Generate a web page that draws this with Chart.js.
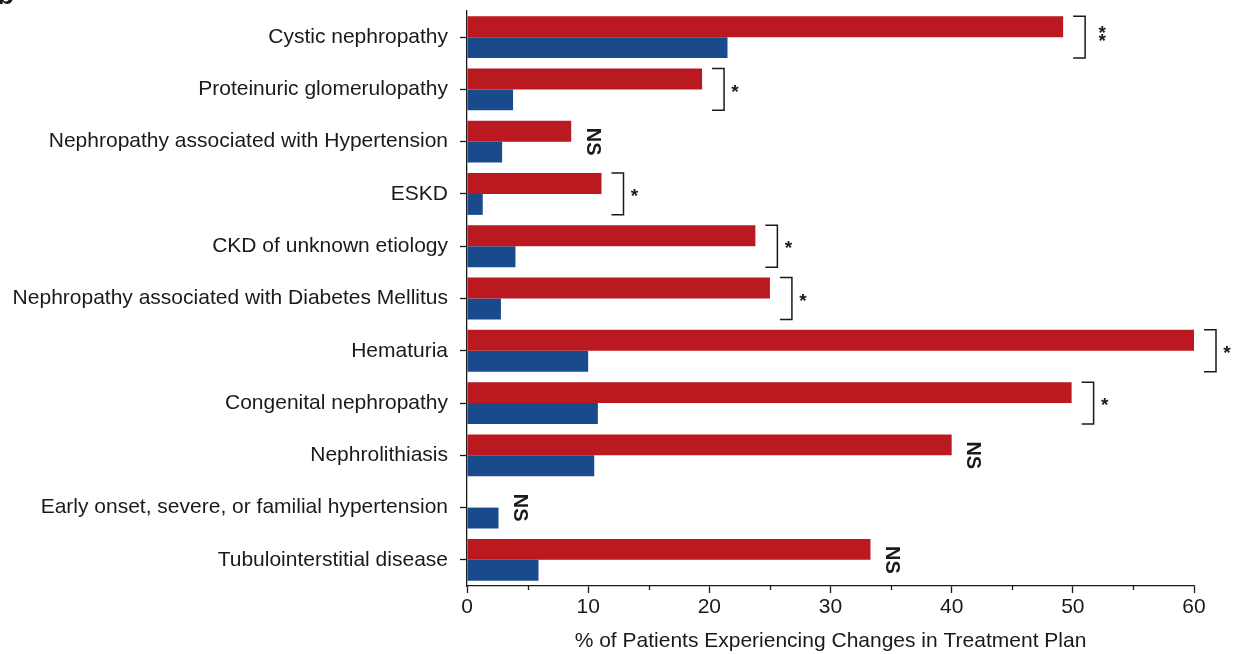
<!DOCTYPE html>
<html>
<head>
<meta charset="utf-8">
<script src="https://cdn.jsdelivr.net/npm/chart.js@4.4.1/dist/chart.umd.min.js"></script>
<style>
  html, body { margin: 0; padding: 0; background: #fff; }
  #wrap { width: 1233px; height: 654px; }
</style>
</head>
<body>
<div id="wrap"><canvas id="treatmentChart" width="1233" height="654"></canvas></div>
<script>
// Daten
const categories = [
    'Cystic nephropathy',
    'Proteinuric glomerulopathy',
    'Nephropathy associated with Hypertension',
    'ESKD',
    'CKD of unknown etiology',
    'Nephropathy associated with Diabetes Mellitus',
    'Hematuria',
    'Congenital nephropathy',
    'Nephrolithiasis',
    'Early onset, severe, or familial hypertension',
    'Tubulointerstitial disease'
];
const redValues = [49.2, 19.4, 8.6, 11.1, 23.8, 25.0, 60.0, 49.9, 40.0, 0, 33.3];
const blueValues = [21.5, 3.8, 2.9, 1.3, 4.0, 2.8, 10.0, 10.8, 10.5, 2.6, 5.9];
const significance = ['**', '*', 'NS', '*', '*', '*', '*', '*', 'NS', 'NS', 'NS'];
const xTicks = [0, 10, 20, 30, 40, 50, 60];

const FONT = '"Liberation Sans", Arial, Helvetica, sans-serif';
const INK = '#1a1a1a';

// Klammern, Sternchen und NS neben den Balken
const sigPlugin = {
    id: 'sigPlugin',
    afterDatasetsDraw(chart) {
        const ctx = chart.ctx;
        const redMeta = chart.getDatasetMeta(0);
        const blueMeta = chart.getDatasetMeta(1);
        ctx.save();
        ctx.fillStyle = INK;
        ctx.strokeStyle = INK;
        significance.forEach((s, i) => {
            const r = redMeta.data[i];
            const b = blueMeta.data[i];
            const xEnd = Math.max(r.x, b.x);
            const top = r.y - r.height / 2;
            const bottom = b.y + b.height / 2;
            const mid = (top + bottom) / 2;
            if (s === 'NS') {
                ctx.save();
                ctx.translate(xEnd + 21, mid);
                ctx.rotate(Math.PI / 2);
                ctx.font = 'bold 20px ' + FONT;
                ctx.textAlign = 'center';
                ctx.textBaseline = 'middle';
                ctx.fillText('NS', 0, 0);
                ctx.restore();
                return;
            }
            const bx = xEnd + 22;
            ctx.lineWidth = 1.5;
            ctx.beginPath();
            ctx.moveTo(bx - 12, top);
            ctx.lineTo(bx, top);
            ctx.lineTo(bx, bottom);
            ctx.lineTo(bx - 12, bottom);
            ctx.stroke();
            ctx.font = 'bold 19px ' + FONT;
            ctx.textAlign = 'center';
            ctx.textBaseline = 'middle';
            if (s === '**') {
                ctx.fillText('*', bx + 17, mid - 3);
                ctx.fillText('*', bx + 17, mid + 5);
            } else {
                ctx.fillText('*', bx + 11, mid + 3);
            }
        });

        // kurze Zwischenstriche auf der x-Achse
        const xs = chart.scales.x;
        ctx.lineWidth = 1.3;
        for (let v = 5; v < 60; v += 10) {
            const px = Math.round(xs.getPixelForValue(v)) + 0.5;
            ctx.beginPath();
            ctx.moveTo(px, xs.top);
            ctx.lineTo(px, xs.top + 4);
            ctx.stroke();
        }

        // abgeschnittener Panel-Buchstabe oben links
        ctx.font = 'bold 28px ' + FONT;
        ctx.textAlign = 'left';
        ctx.textBaseline = 'alphabetic';
        ctx.fillText('b', -3, 4);
        ctx.restore();
    }
};

document.addEventListener('DOMContentLoaded', function () {
    const ctx = document.getElementById('treatmentChart').getContext('2d');

    new Chart(ctx, {
        type: 'bar',
        data: {
            labels: categories,
            datasets: [
                {
                    label: 'Group 1',
                    data: redValues,
                    backgroundColor: '#b9191f',
                    categoryPercentage: 0.8,
                    barPercentage: 1.0
                },
                {
                    label: 'Group 2',
                    data: blueValues,
                    backgroundColor: '#184a8c',
                    categoryPercentage: 0.8,
                    barPercentage: 1.0
                }
            ]
        },
        options: {
            indexAxis: 'y',
            responsive: false,
            animation: false,
            devicePixelRatio: 1,
            layout: { padding: { left: 0, right: 39, top: 11, bottom: 0 } },
            plugins: {
                legend: { display: false },
                tooltip: { enabled: false }
            },
            scales: {
                x: {
                    min: 0,
                    max: 60,
                    afterBuildTicks: (scale) => { scale.ticks = xTicks.map(v => ({ value: v })); },
                    afterFit: (scale) => { scale.height = 68; },
                    border: { color: INK, width: 1.3 },
                    grid: { drawOnChartArea: false, drawTicks: true, tickLength: 7, tickColor: INK, tickWidth: 1.3 },
                    ticks: { color: INK, font: { family: FONT, size: 21 }, padding: 2, maxRotation: 0 },
                    title: {
                        display: true,
                        text: '% of Patients Experiencing Changes in Treatment Plan',
                        color: INK,
                        font: { family: FONT, size: 21 },
                        padding: { top: 2, bottom: 0 }
                    }
                },
                y: {
                    offset: true,
                    afterFit: (scale) => {
                        scale.width = 467;
                        scale.paddingTop = 0;
                        scale.paddingBottom = 0;
                    },
                    border: { color: INK, width: 1.3 },
                    grid: { drawOnChartArea: false, drawTicks: true, tickLength: 7, tickColor: INK, tickWidth: 1.3, offset: false },
                    ticks: { color: INK, font: { family: FONT, size: 21 }, padding: 12, autoSkip: false }
                }
            }
        },
        plugins: [sigPlugin]
    });
});
</script>
</body>
</html>
